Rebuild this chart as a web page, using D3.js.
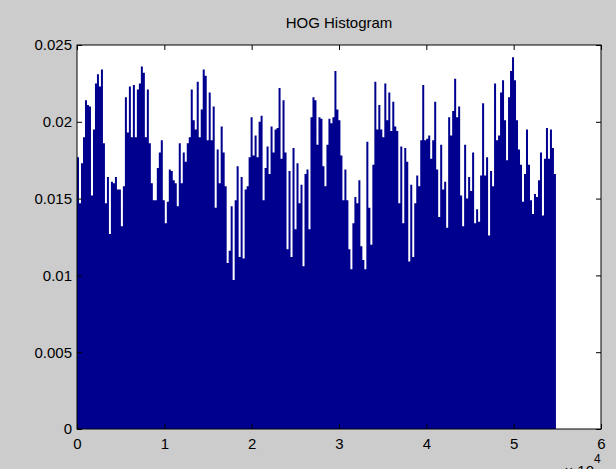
<!DOCTYPE html>
<html>
<head>
<meta charset="utf-8">
<script src="https://cdn.jsdelivr.net/npm/d3@7"></script>
<style>
  body { margin: 0; background: #cccccc; }
  text { font-family: "Liberation Sans", Arial, sans-serif; fill: #000; }
</style>
</head>
<body>
<svg width="616" height="469"></svg>
<script>
// HOG descriptor values, one entry per group of bins
const binValues = [
  0.0177, 0.0147, 0.0173, 0.0190, 0.0214, 0.0211, 0.0210, 0.0152, 0.0195, 0.0225,
  0.0231, 0.0223, 0.0234, 0.0186, 0.0147, 0.0164, 0.0127, 0.0161, 0.0160, 0.0164,
  0.0156, 0.0156, 0.0132, 0.0158, 0.0216, 0.0193, 0.0223, 0.0190, 0.0224, 0.0190,
  0.0221, 0.0225, 0.0236, 0.0232, 0.0190, 0.0221, 0.0186, 0.0160, 0.0149,
  0.0149, 0.0170, 0.0180, 0.0188, 0.0149, 0.0134, 0.0148, 0.0169, 0.0168, 0.0162,
  0.0160, 0.0145, 0.0186, 0.0160, 0.0180, 0.0174, 0.0186, 0.0190, 0.0221, 0.0201,
  0.0195, 0.0226, 0.0190, 0.0208, 0.0234, 0.0230, 0.0188, 0.0219, 0.0188, 0.0210,
  0.0144, 0.0182, 0.0160, 0.0197, 0.0180, 0.0158, 0.0108, 0.0116, 0.0145, 0.0097,
  0.0149, 0.0171, 0.0112, 0.0164, 0.0111, 0.0156, 0.0158, 0.0177, 0.0203, 0.0178,
  0.0191, 0.0177, 0.0200, 0.0204, 0.0149, 0.0170, 0.0184, 0.0166, 0.0197, 0.0180,
  0.0195, 0.0196, 0.0222, 0.0176, 0.0214, 0.0180, 0.0117, 0.0168, 0.0112, 0.0183,
  0.0130, 0.0173, 0.0147, 0.0159, 0.0106, 0.0166, 0.0169, 0.0130, 0.0203, 0.0216,
  0.0214, 0.0185, 0.0203, 0.0202, 0.0171, 0.0158, 0.0185, 0.0202, 0.0199, 0.0203,
  0.0233, 0.0208, 0.0201, 0.0178, 0.0149, 0.0169, 0.0149, 0.0117, 0.0104, 0.0134,
  0.0151, 0.0147, 0.0162, 0.0119, 0.0110, 0.0104, 0.0187, 0.0144, 0.0120, 0.0172,
  0.0226, 0.0195, 0.0211, 0.0195, 0.0190, 0.0225, 0.0201, 0.0219, 0.0194, 0.0213,
  0.0197, 0.0194, 0.0147, 0.0184, 0.0134, 0.0183, 0.0174, 0.0109, 0.0159, 0.0112,
  0.0147, 0.0165, 0.0158, 0.0188, 0.0224, 0.0188, 0.0189, 0.0191, 0.0176, 0.0188,
  0.0213, 0.0169, 0.0138, 0.0185, 0.0156, 0.0161, 0.0131, 0.0203, 0.0191, 0.0207,
  0.0228, 0.0203, 0.0210, 0.0152, 0.0132, 0.0185, 0.0150, 0.0164, 0.0155, 0.0180,
  0.0134, 0.0143, 0.0135, 0.0165, 0.0212, 0.0165, 0.0177, 0.0126, 0.0168, 0.0158,
  0.0225, 0.0188, 0.0191, 0.0219, 0.0227, 0.0201, 0.0175, 0.0216, 0.0233, 0.0242,
  0.0227, 0.0201, 0.0182, 0.0172, 0.0148, 0.0166, 0.0195, 0.0172, 0.0149, 0.0140,
  0.0153, 0.0151, 0.0162, 0.0180, 0.0139, 0.0176, 0.0196, 0.0176, 0.0195, 0.0183,
  0.0166
];
const binSpan = 228.5; // feature indices covered by each entry
const xTicks = [0, 10000, 20000, 30000, 40000, 50000, 60000];
const xTickLabels = ["0", "1", "2", "3", "4", "5", "6"];
const yTicks = [0, 0.005, 0.01, 0.015, 0.02, 0.025];
const yTickLabels = ["0", "0.005", "0.01", "0.015", "0.02", "0.025"];

const svg = d3.select("svg");
const plot = { left: 77, right: 601, top: 45, bottom: 429 };

const x = d3.scaleLinear().domain([0, 60000]).range([plot.left, plot.right]);
const y = d3.scaleLinear().domain([0, 0.025]).range([plot.bottom, plot.top]);

svg.append("rect")
  .attr("x", plot.left).attr("y", plot.top)
  .attr("width", plot.right - plot.left)
  .attr("height", plot.bottom - plot.top)
  .attr("fill", "#fff");

// bars drawn as one stepped shape so neighbouring bars leave no seams
const steps = binValues.map((v, i) => [i * binSpan, v]);
steps.push([binValues.length * binSpan, binValues[binValues.length - 1]]);

const barArea = d3.area()
  .curve(d3.curveStepAfter)
  .x(d => x(d[0]))
  .y0(y(0))
  .y1(d => y(d[1]));

svg.append("path")
  .datum(steps)
  .attr("d", barArea)
  .attr("fill", "#00008f");

const fontSize = "15px";

svg.append("g")
  .attr("transform", `translate(0,${plot.bottom})`)
  .call(d3.axisBottom(x).tickValues(xTicks).tickSize(-5).tickPadding(9)
    .tickFormat((d, i) => xTickLabels[i]));

svg.append("g")
  .attr("transform", `translate(${plot.left},0)`)
  .call(d3.axisLeft(y).tickValues(yTicks).tickSize(-5).tickPadding(5)
    .tickFormat((d, i) => yTickLabels[i]));

svg.append("g")
  .attr("transform", `translate(0,${plot.top})`)
  .call(d3.axisTop(x).tickValues(xTicks).tickSize(-5).tickFormat(""));

svg.append("g")
  .attr("transform", `translate(${plot.right},0)`)
  .call(d3.axisRight(y).tickValues(yTicks).tickSize(-5).tickFormat(""));

svg.selectAll(".domain").remove();
svg.selectAll(".tick line").attr("stroke", "#000");
svg.selectAll(".tick text").style("font-size", fontSize).attr("fill", "#222");

// axes box
svg.append("rect")
  .attr("x", plot.left).attr("y", plot.top)
  .attr("width", plot.right - plot.left)
  .attr("height", plot.bottom - plot.top)
  .attr("fill", "none")
  .attr("stroke", "#000");

svg.append("text")
  .attr("x", (plot.left + plot.right) / 2)
  .attr("y", 28)
  .attr("text-anchor", "middle")
  .style("font-size", fontSize)
  .attr("fill", "#222")
  .text("HOG Histogram");

// exponent for x axis (the "x 10" sits at the window's lower edge, as in the figure)
svg.append("text")
  .attr("x", 594).attr("y", 463)
  .style("font-size", "12px")
  .text("4");
svg.append("text")
  .attr("x", 594).attr("y", 476)
  .attr("text-anchor", "end")
  .style("font-size", fontSize)
  .text("× 10");
</script>
</body>
</html>
